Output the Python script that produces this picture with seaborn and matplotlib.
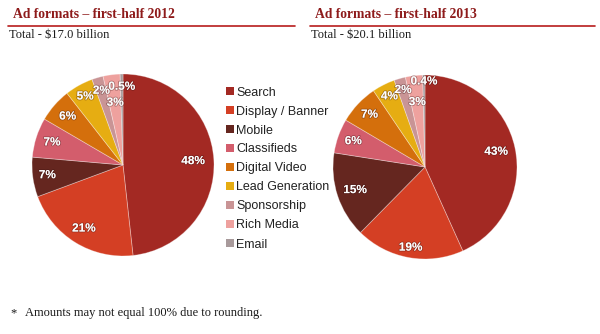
import matplotlib
matplotlib.use("Agg")
import numpy as np
import matplotlib.pyplot as plt
import matplotlib.patheffects as pe
from matplotlib.lines import Line2D
from matplotlib.patches import Patch
import seaborn as sns

categories = ["Search", "Display / Banner", "Mobile", "Classifieds", "Digital Video",
              "Lead Generation", "Sponsorship", "Rich Media", "Email"]
values_2012 = [48, 21, 7, 7, 6, 5, 2, 3, 0.5]
labels_2012 = ["48%", "21%", "7%", "7%", "6%", "5%", "2%", "3%", "0.5%"]
values_2013 = [43, 19, 15, 6, 7, 4, 2, 3, 0.4]
labels_2013 = ["43%", "19%", "15%", "6%", "7%", "4%", "2%", "3%", "0.4%"]
colors = ["#A32923", "#D43F24", "#65261F", "#D35D6C", "#D46F0C",
          "#E6AD12", "#C99495", "#EEA19E", "#A89A9B"]

# label placement (fraction of radius) for each slice label
label_r_2012 = [0.77, 0.82, 0.84, 0.82, 0.81, 0.86, 0.85, 0.69, 0.86]
label_r_2013 = [0.79, 0.89, 0.80, 0.83, 0.83, 0.86, 0.87, 0.71, 0.93]

sns.set_theme(style="white")
palette = sns.color_palette(colors)

W, H = 600, 334
fig = plt.figure(figsize=(W / 100, H / 100), dpi=100)
fig.patch.set_facecolor("white")

def px_axes(x, y, w, h):
    return fig.add_axes([x / W, 1 - (y + h) / H, w / W, h / H])

def draw_pie(ax, vals, labs, radii):
    wedges, texts = ax.pie(vals, colors=palette, startangle=90, counterclock=False,
                           labels=labs, labeldistance=0.8,
                           wedgeprops=dict(edgecolor=(1, 1, 1, 0.35), linewidth=0.6))
    for w, t, r in zip(wedges, texts, radii):
        ang = np.deg2rad((w.theta1 + w.theta2) / 2)
        t.set_position((r * np.cos(ang), r * np.sin(ang)))
        t.set_ha("center")
        t.set_va("center")
        t.set_color("white")
        t.set_fontsize(8.5)
        t.set_fontweight("bold")
        t.set_family(["Liberation Sans", "DejaVu Sans"])
        t.set_path_effects([pe.withStroke(linewidth=1.2, foreground=(0.2, 0.05, 0.05, 0.35))])
    ax.set_xlim(-1, 1)
    ax.set_ylim(-1, 1)
    ax.set_axis_off()
    return wedges, texts

ax1 = px_axes(32, 74, 182, 182)
draw_pie(ax1, values_2012, labels_2012, label_r_2012)
ax2 = px_axes(333, 75, 184, 184)
draw_pie(ax2, values_2013, labels_2013, label_r_2013)

# Titles and underline rules
title_color = "#8E1B1B"
rule_color = "#B81C1C"
serif = ["Liberation Serif", "DejaVu Serif"]
for x0, x1, title, total in [(8, 295, "Ad formats \u2013 first-half 2012", "Total - $17.0 billion"),
                             (310, 595, "Ad formats \u2013 first-half 2013", "Total - $20.1 billion")]:
    fig.text((x0 + 5) / W, 1 - 15 / H, title, family=serif, fontsize=9.8, fontweight="bold",
             color=title_color, va="center", ha="left")
    fig.add_artist(Line2D([x0 / W, x1 / W], [1 - 26 / H, 1 - 26 / H], color=rule_color, lw=1.2))
    fig.text((x0 + 1) / W, 1 - 35 / H, total, family=serif, fontsize=9, color="#1a1a1a",
             va="center", ha="left")

fig.text(10 / W, 1 - 313 / H, "*", family=serif, fontsize=9, color="#1a1a1a", va="center")
fig.text(25 / W, 1 - 313 / H, "Amounts may not equal 100% due to rounding.", family=serif,
         fontsize=9, color="#1a1a1a", va="center")

handles = [Patch(facecolor=c, edgecolor="none") for c in palette]
leg = fig.legend(handles, categories, loc="upper left",
                 bbox_to_anchor=(226 / W, 1 - 86.5 / H), frameon=False,
                 handlelength=0.6, handleheight=0.6, handletextpad=0.2,
                 labelspacing=0.56, borderpad=0, borderaxespad=0,
                 prop=dict(family=["Liberation Sans", "DejaVu Sans"], size=9))
for txt in leg.get_texts():
    txt.set_color("#222222")

fig.savefig("out.png", dpi=100, facecolor="white")
